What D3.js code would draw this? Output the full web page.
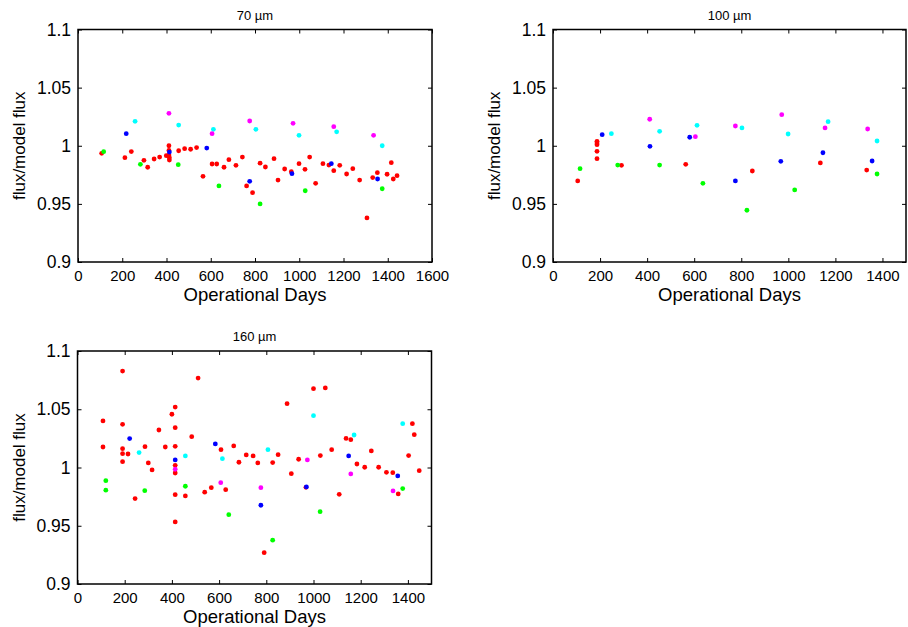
<!DOCTYPE html>
<html>
<head>
<meta charset="utf-8">
<script src="https://cdn.jsdelivr.net/npm/d3@7"></script>
<style>
  body { margin: 0; background: #fff; }
  svg { font-family: "Liberation Sans", Arial, Helvetica, sans-serif; }
  .axis path { display: none; }
  .axis line { stroke: #000; stroke-width: 1; }
</style>
</head>
<body>
<svg id="chart" width="908" height="627"></svg>
<script>
// ---- data: [operational day, flux/model flux] ----
const red70 = [[107,0.9935],[212,0.9897],[241,0.995],[298,0.9875],[315,0.9815],[344,0.9886],[369,0.9903],[399,0.9915],[411,1.0],[411,0.996],[411,0.992],[413,0.9897],[413,0.9877],[455,0.9957],[482,0.9975],[509,0.997],[536,0.9984],[565,0.9737],[606,0.9843],[627,0.9843],[660,0.9815],[682,0.988],[714,0.9832],[743,0.9903],[762,0.9654],[789,0.9596],[823,0.985],[847,0.9817],[886,0.9889],[904,0.9705],[934,0.980],[964,0.9777],[999,0.9846],[1026,0.9797],[1047,0.9903],[1074,0.9677],[1107,0.9846],[1134,0.9834],[1156,0.9786],[1183,0.9832],[1214,0.9757],[1242,0.9803],[1273,0.9705],[1306,0.9379],[1332,0.9726],[1353,0.9768],[1397,0.9755],[1416,0.9854],[1425,0.9714],[1442,0.9743]];
const green70 = [[116,0.9949],[282,0.984],[453,0.9837],[637,0.9654],[823,0.950],[1027,0.9613],[1375,0.963]];
const blue70 = [[218,1.0104],[413,0.9946],[582,0.998],[776,0.9694],[967,0.976],[1145,0.9846],[1354,0.9714]];
const cyan70 = [[258,1.021],[455,1.0178],[612,1.0141],[804,1.0141],[999,1.009],[1169,1.012],[1375,1.0]];
const magenta70 = [[411,1.0279],[606,1.0104],[776,1.0213],[972,1.0193],[1156,1.0164],[1336,1.009]];

const red100 = [[105,0.9697],[187,1.0038],[187,1.0024],[187,1.0009],[187,0.9952],[187,0.9889],[291,0.9832],[564,0.984],[847,0.9783],[1136,0.9852],[1333,0.9791]];
const green100 = [[115,0.9803],[275,0.9834],[453,0.9834],[637,0.9677],[824,0.9445],[1027,0.962],[1377,0.9757]];
const blue100 = [[209,1.0095],[412,0.9995],[581,1.0073],[775,0.9697],[968,0.9866],[1147,0.994],[1356,0.9869]];
const cyan100 = [[248,1.0104],[453,1.0124],[612,1.0176],[803,1.0153],[999,1.0101],[1169,1.0207],[1377,1.0041]];
const magenta100 = [[411,1.0228],[605,1.0078],[775,1.017],[972,1.0267],[1156,1.0153],[1337,1.0144]];

const red160 = [[108,1.04],[108,1.0176],[191,1.0828],[191,1.0371],[191,1.0162],[191,1.0119],[191,1.005],[214,1.0116],[244,0.9733],[286,1.0179],[300,1.0039],[316,0.9979],[345,1.0322],[372,1.0176],[400,1.0457],[414,1.0519],[414,1.0342],[414,1.0182],[414,1.0019],[414,0.9953],[414,0.9767],[414,0.9533],[457,0.9756],[484,1.0265],[511,1.0768],[539,0.9788],[567,0.9827],[608,1.0153],[628,0.981],[662,1.0185],[684,1.0045],[715,1.0108],[744,1.0099],[764,1.0039],[791,0.9269],[827,1.0042],[850,1.011],[888,1.0548],[906,0.9947],[937,1.0071],[968,0.983],[1000,1.0677],[1029,1.0102],[1050,1.0683],[1077,1.0153],[1109,0.977],[1138,1.025],[1158,1.0239],[1184,1.003],[1217,1.0002],[1245,1.0142],[1276,1.0002],[1309,0.9959],[1336,0.9956],[1359,0.9773],[1403,1.0102],[1419,1.0376],[1427,1.0282],[1448,0.9973]];
const green160 = [[120,0.9887],[120,0.9805],[285,0.9801],[457,0.9839],[641,0.9595],[827,0.9376],[1028,0.9621],[1378,0.9819]];
const blue160 = [[221,1.0248],[414,1.0065],[584,1.0202],[777,0.9676],[970,0.9833],[1149,1.0099],[1357,0.9928]];
const cyan160 = [[261,1.0128],[457,1.0099],[614,1.0076],[807,1.0153],[1000,1.0445],[1172,1.0279],[1378,1.0376]];
const magenta160 = [[414,0.9985],[607,0.987],[777,0.9827],[974,1.0065],[1158,0.9945],[1337,0.9799]];

const yTicks = [0.9, 0.95, 1, 1.05, 1.1];
const yTickLabels = ["0.9", "0.95", "1", "1.05", "1.1"];
const xTicks70 = [0, 200, 400, 600, 800, 1000, 1200, 1400, 1600];
const xTicks = [0, 200, 400, 600, 800, 1000, 1200, 1400];

const colors = ['#ff0000', '#00ff00', '#0000ff', '#00ffff', '#ff00ff'];

const panels = [
    {title: '70 \u00b5m', left: 78, top: 29.5, w: 354, h: 232.5, xmax: 1600, xticks: xTicks70,
     series: [red70, green70, blue70, cyan70, magenta70]},
    {title: '100 \u00b5m', left: 553, top: 29.5, w: 353, h: 232.5, xmax: 1500, xticks: xTicks,
     series: [red100, green100, blue100, cyan100, magenta100]},
    {title: '160 \u00b5m', left: 77.5, top: 351, w: 354, h: 233, xmax: 1500, xticks: xTicks,
     series: [red160, green160, blue160, cyan160, magenta160]}
];

const svg = d3.select('#chart');

panels.forEach((p) => {
    const g = svg.append('g').attr('transform', 'translate(' + p.left + ',' + p.top + ')');
    const x = d3.scaleLinear().domain([0, p.xmax]).range([0, p.w]);
    const y = d3.scaleLinear().domain([0.9, 1.1]).range([p.h, 0]);

    // bottom axis with labels, ticks pointing inward
    g.append('g').attr('class', 'axis').attr('transform', 'translate(0,' + p.h + ')')
        .call(d3.axisBottom(x).tickValues(p.xticks).tickSizeInner(-4).tickSizeOuter(0).tickPadding(8.5)
            .tickFormat(d3.format('d')))
        .selectAll('text').attr('fill', '#000').style('font-size', '15px').style('font-family', null);
    g.append('g').attr('class', 'axis')
        .call(d3.axisTop(x).tickValues(p.xticks).tickSizeInner(-4).tickSizeOuter(0).tickFormat(''));

    g.append('g').attr('class', 'axis')
        .call(d3.axisLeft(y).tickValues(yTicks).tickSizeInner(-4).tickSizeOuter(0).tickPadding(7)
            .tickFormat((d, i) => yTickLabels[i]))
        .selectAll('text').attr('fill', '#000').style('font-size', '17.5px').style('font-family', null);
    g.append('g').attr('class', 'axis').attr('transform', 'translate(' + p.w + ',0)')
        .call(d3.axisRight(y).tickValues(yTicks).tickSizeInner(-4).tickSizeOuter(0).tickFormat(''));

    // frame
    g.append('rect').attr('width', p.w).attr('height', p.h)
        .attr('fill', 'none').attr('stroke', '#000').attr('stroke-width', 1.5);

    // points
    p.series.forEach((s, i) => {
        g.selectAll(null).data(s).enter().append('circle')
            .attr('cx', (d) => x(d[0]))
            .attr('cy', (d) => y(d[1]))
            .attr('r', 2.4)
            .attr('fill', colors[i]);
    });

    g.append('text')
        .attr('x', p.w / 2).attr('y', -10)
        .attr('text-anchor', 'middle')
        .style('font-size', '13px')
        .text(p.title);

    g.append('text')
        .attr('x', p.w / 2).attr('y', p.h + 38.5)
        .attr('text-anchor', 'middle')
        .style('font-size', '18.5px')
        .text('Operational Days');

    g.append('text')
        .attr('transform', 'translate(' + (-53) + ',' + (p.h / 2) + ') rotate(-90)')
        .attr('text-anchor', 'middle')
        .style('font-size', '17px')
        .text('flux/model flux');
});
</script>
</body>
</html>
